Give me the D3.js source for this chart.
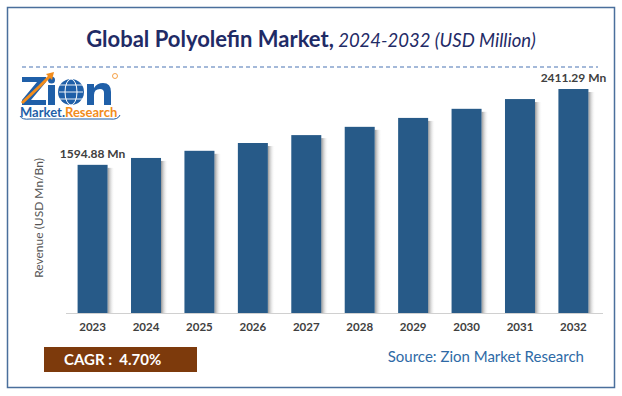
<!DOCTYPE html>
<html><head><meta charset="utf-8">
<script src="https://cdn.jsdelivr.net/npm/d3@7"></script>
<style>body{margin:0;background:#fff}svg{display:block}</style>
</head><body>
<svg id="c" width="622" height="396"></svg>
<script>
const years = ["2023","2024","2025","2026","2027","2028","2029","2030","2031","2032"];
const revenue = [1594.88,1669,1746,1830,1915,2004,2100,2198,2303,2411.29];
const valueLabels = {"2023":"1594.88 Mn","2032":"2411.29 Mn"};
const titleBold = "Global Polyolefin Market,";
const titleItalic = " 2024-2032 (USD Million)";
const yLabel = "Revenue (USD Mn/Bn)";
const cagrText = "CAGR :  4.70%";
const sourceText = "Source: Zion Market Research";

const svg = d3.select("#c");
const F = "Lato, 'Open Sans', sans-serif";
const defs = svg.append("defs");
const sg = defs.append("linearGradient").attr("id","sh").attr("x1","0").attr("x2","1");
sg.append("stop").attr("offset","0").attr("stop-color","#8a8a8a").attr("stop-opacity",0.9);
sg.append("stop").attr("offset","1").attr("stop-color","#ffffff").attr("stop-opacity",0);

svg.append("rect").attr("x",7.5).attr("y",7.5).attr("width",607).attr("height",380)
  .attr("fill","#fff").attr("stroke","#4a6f9c").attr("stroke-width",1.5);

const t = svg.append("text").attr("x",311).attr("y",47).attr("text-anchor","middle")
  .attr("font-family",F).attr("fill","#1f2b66");
t.append("tspan").attr("font-weight","bold").attr("font-size",22).text(titleBold);
t.append("tspan").attr("font-style","italic").attr("font-size",18.5).text(titleItalic);

svg.append("line").attr("x1",22).attr("x2",598).attr("y1",67).attr("y2",67)
  .attr("stroke","#4a74b4").attr("stroke-width",1.2).attr("stroke-dasharray","4,3");

// logo (drawn as shapes)
const blue = "#1f5fa8", orange = "#f28c1c";
const lg = svg.append("g");
lg.append("path").attr("d","M22,77 H46 V82 L31,100 H46 V105 H22 V100 L37,82 H22 Z").attr("fill",blue);
lg.append("rect").attr("x",48).attr("y",85).attr("width",7).attr("height",20).attr("fill",blue);
lg.append("circle").attr("cx",51.5).attr("cy",80).attr("r",3.5).attr("fill",blue);
lg.append("path").attr("d","M22,103 L40,86 L50,76").attr("stroke",orange).attr("stroke-width",3).attr("fill","none");
lg.append("path").attr("d","M46,74 L54,72 L52,80 Z").attr("fill",orange);
lg.append("circle").attr("cx",71).attr("cy",92).attr("r",13).attr("fill",blue);
lg.append("ellipse").attr("cx",71).attr("cy",92).attr("rx",6).attr("ry",13).attr("fill","none").attr("stroke","#fff").attr("stroke-width",1);
[85,92,99].forEach(yy=>lg.append("line").attr("x1",59).attr("x2",83).attr("y1",yy).attr("y2",yy).attr("stroke","#fff").attr("stroke-width",0.9));
lg.append("path").attr("d","M87,84 H94 V88 Q97,83 103,83 Q111,83 111,92 V105 H104 V93 Q104,89 100,89 Q94,89 94,95 V105 H87 Z").attr("fill",blue);
lg.append("circle").attr("cx",115).attr("cy",76).attr("r",2.5).attr("fill","none").attr("stroke",orange).attr("stroke-width",0.8);
const ml = svg.append("text").attr("x",20).attr("y",117).attr("font-family",F).attr("font-weight","bold").attr("font-size",13);
ml.append("tspan").attr("fill",blue).text("Market.");
ml.append("tspan").attr("fill",orange).text("Research");
lg.append("path").attr("d","M20,116 Q22,120 30,119 L110,119 Q118,120 120,115").attr("stroke",blue).attr("stroke-width",1).attr("fill","none");

const x = d3.scaleBand().domain(years).range([66,600]).paddingInner(0.4385).paddingOuter(0.217);
const y = d3.scaleLinear().domain([0,2411.29]).range([313,89]);

svg.append("g").selectAll("rect").data(years).join("rect")
  .attr("x",d=>x(d)+x.bandwidth()).attr("y",(d,i)=>y(revenue[i])+3)
  .attr("width",7).attr("height",(d,i)=>313-y(revenue[i])-3).attr("fill","url(#sh)");
svg.append("g").selectAll("rect").data(years).join("rect")
  .attr("x",d=>x(d)).attr("y",(d,i)=>y(revenue[i]))
  .attr("width",x.bandwidth()).attr("height",(d,i)=>313-y(revenue[i])).attr("fill","#275a88");

const ax = svg.append("g").attr("transform","translate(0,313)")
  .call(d3.axisBottom(x).tickSize(0).tickPadding(10));
ax.select(".domain").attr("stroke","#d0d0d0").attr("d","M66,0.5H603");
ax.selectAll("text").attr("font-family",F).attr("font-weight","bold").attr("font-size",11.5).attr("fill","#404040");

svg.append("g").selectAll("text").data(years.filter(d=>valueLabels[d])).join("text")
  .attr("x",d=>x(d)+x.bandwidth()/2).attr("y",d=>y(revenue[years.indexOf(d)])-7)
  .attr("text-anchor","middle").attr("font-family",F).attr("font-weight","bold")
  .attr("font-size",12).attr("fill","#404040").text(d=>valueLabels[d]);

svg.append("text").attr("transform","translate(43,218) rotate(-90)").attr("text-anchor","middle")
  .attr("font-family",F).attr("font-size",12).attr("fill","#555").text(yLabel);

svg.append("rect").attr("x",44).attr("y",347).attr("width",153).attr("height",25).attr("fill","#7d3a0c");
svg.append("text").attr("x",64).attr("y",365).attr("font-family",F).attr("font-weight","bold")
  .attr("font-size",15).attr("fill","#fff").style("white-space","pre").text(cagrText);

svg.append("text").attr("x",584).attr("y",362).attr("text-anchor","end").attr("font-family",F)
  .attr("font-size",15).attr("fill","#2e6aa6").text(sourceText);
</script>
</body></html>
